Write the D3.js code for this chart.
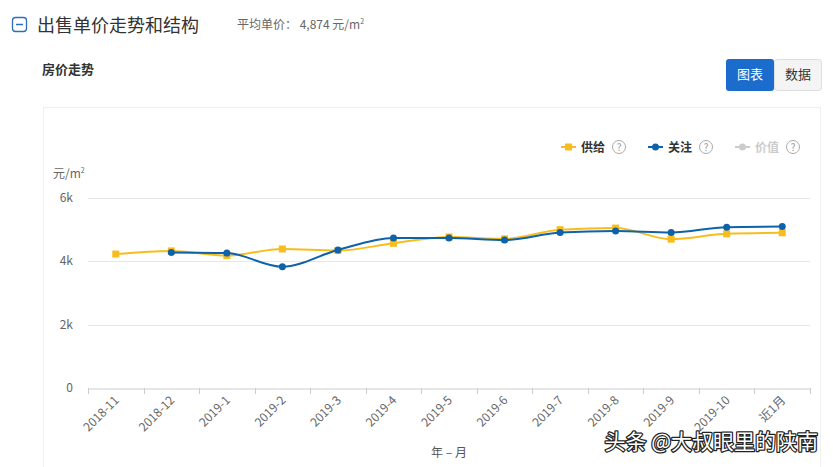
<!DOCTYPE html>
<html lang="zh">
<head>
<meta charset="UTF-8">
<title>房价走势</title>
<style>
  body { margin: 0; background: #fff; font-family: "Noto Sans CJK SC", "Microsoft YaHei", sans-serif; }
</style>
</head>
<body>
<script src="https://d3js.org/d3.v7.min.js"></script>
<script>
// months on the x axis
var months = ["2018-11", "2018-12", "2019-1", "2019-2", "2019-3", "2019-4", "2019-5",
              "2019-6", "2019-7", "2019-8", "2019-9", "2019-10", "近1月"];
// 供给 (supply) and 关注 (attention), 元/m²
var supply = [4230, 4330, 4180, 4390, 4340, 4570, 4770, 4710, 5000, 5050, 4700, 4870, 4900];
var attention = [null, 4280, 4260, 3830, 4360, 4740, 4740, 4670, 4910, 4960, 4910, 5080, 5100];
var yTicks = [0, 2000, 4000, 6000];
var legendNames = ["供给", "关注", "价值"];

var W = 833, H = 467;
var font = '"Noto Sans CJK SC", sans-serif';
var yellow = "#f8bd1c", blue = "#0d62aa", grey = "#cccccc";

var svg = d3.select("body").append("svg")
    .attr("width", W).attr("height", H)
    .style("font-family", font);

// header
svg.append("rect").attr("x", 12.5).attr("y", 17.5).attr("width", 14).attr("height", 14)
    .attr("rx", 3).attr("fill", "#fff").attr("stroke", "#2d6cc0").attr("stroke-width", 1.3);
svg.append("line").attr("x1", 16).attr("x2", 23).attr("y1", 24.5).attr("y2", 24.5)
    .attr("stroke", "#2d6cc0").attr("stroke-width", 1.5);
svg.append("text").attr("x", 37).attr("y", 32).attr("font-size", 18).attr("fill", "#333")
    .text("出售单价走势和结构");
var avg = svg.append("text").attr("x", 237).attr("y", 29).attr("font-size", 12).attr("fill", "#666");
avg.append("tspan").text("平均单价： 4,874 元/m");
avg.append("tspan").attr("font-size", 7).attr("dy", -5).text("2");

svg.append("text").attr("x", 42).attr("y", 74).attr("font-size", 13).attr("font-weight", "bold")
    .attr("fill", "#333").text("房价走势");

// buttons
svg.append("rect").attr("x", 774.5).attr("y", 59.5).attr("width", 47).attr("height", 31)
    .attr("rx", 3).attr("fill", "#f4f4f4").attr("stroke", "#ddd");
svg.append("rect").attr("x", 726).attr("y", 59).attr("width", 48).attr("height", 32)
    .attr("rx", 3).attr("fill", "#1b6ccc");
svg.append("text").attr("x", 750).attr("y", 79).attr("text-anchor", "middle").attr("font-size", 13)
    .attr("fill", "#fff").text("图表");
svg.append("text").attr("x", 798).attr("y", 79).attr("text-anchor", "middle").attr("font-size", 13)
    .attr("fill", "#333").text("数据");

// panel
svg.append("rect").attr("x", 43.5).attr("y", 107.5).attr("width", 777).attr("height", 370)
    .attr("fill", "none").attr("stroke", "#efefef");

// scales
var x = d3.scaleBand().domain(months).range([88, 810]);
var y = d3.scaleLinear().domain([0, 6000]).range([388, 198]);
var cx = function (m) { return x(m) + x.bandwidth() / 2; };

// grid
svg.append("g").selectAll("line").data(yTicks.slice(1)).enter().append("line")
    .attr("x1", 88).attr("x2", 810)
    .attr("y1", function (d) { return Math.round(y(d)) + 0.5; })
    .attr("y2", function (d) { return Math.round(y(d)) + 0.5; })
    .attr("stroke", "#e6e6e6");

svg.append("g").selectAll("text").data(yTicks).enter().append("text")
    .attr("x", 73).attr("y", function (d) { return y(d) + 4; })
    .attr("text-anchor", "end").attr("font-size", 12).attr("fill", "#666")
    .text(function (d) { return d === 0 ? "0" : (d / 1000) + "k"; });

var unit = svg.append("text").attr("x", 53).attr("y", 178).attr("font-size", 12).attr("fill", "#666");
unit.append("tspan").text("元/m");
unit.append("tspan").attr("font-size", 7).attr("dy", -5).text("2");

// x axis
var xAxis = d3.axisBottom(x).tickSize(0).tickFormat("");
svg.append("g").attr("transform", "translate(0,388.5)").call(xAxis)
    .select(".domain").attr("stroke", "#ccc");
var bounds = months.map(function (m) { return x(m); }).concat([810]);
svg.append("g").selectAll("line").data(bounds).enter().append("line")
    .attr("x1", function (d) { return Math.round(d) + 0.5; })
    .attr("x2", function (d) { return Math.round(d) + 0.5; })
    .attr("y1", 388).attr("y2", 394).attr("stroke", "#ccc");

svg.append("g").selectAll("text").data(months).enter().append("text")
    .attr("text-anchor", "end").attr("font-size", 12).attr("fill", "#666")
    .attr("transform", function (d) {
        return "translate(" + (cx(d) + 4) + ",401) rotate(-45)";
    })
    .text(function (d) { return d; });

svg.append("text").attr("x", 449).attr("y", 457).attr("text-anchor", "middle")
    .attr("font-size", 12).attr("fill", "#555").text("年 – 月");

// lines
var line = d3.line()
    .defined(function (d) { return d.v != null; })
    .x(function (d) { return cx(d.m); })
    .y(function (d) { return y(d.v); })
    .curve(d3.curveMonotoneX);

var sSupply = months.map(function (m, i) { return {m: m, v: supply[i]}; });
var sAttention = months.map(function (m, i) { return {m: m, v: attention[i]}; });

svg.append("path").datum(sSupply).attr("d", line)
    .attr("fill", "none").attr("stroke", yellow).attr("stroke-width", 2);
svg.append("g").selectAll("rect").data(sSupply).enter().append("rect")
    .attr("x", function (d) { return cx(d.m) - 3.5; })
    .attr("y", function (d) { return y(d.v) - 3.5; })
    .attr("width", 7).attr("height", 7).attr("fill", yellow);

svg.append("path").datum(sAttention).attr("d", line)
    .attr("fill", "none").attr("stroke", blue).attr("stroke-width", 2);
svg.append("g").selectAll("circle").data(sAttention.filter(function (d) { return d.v != null; }))
    .enter().append("circle")
    .attr("cx", function (d) { return cx(d.m); })
    .attr("cy", function (d) { return y(d.v); })
    .attr("r", 3.5).attr("fill", blue);

// legend
var legendX = [561, 648, 735];
var legendCol = [yellow, blue, grey];
var lg = svg.append("g").selectAll("g").data(legendNames).enter().append("g")
    .attr("transform", function (d, i) { return "translate(" + legendX[i] + ",147)"; });
lg.append("line").attr("x1", 0).attr("x2", 15).attr("stroke-width", 2)
    .attr("stroke", function (d, i) { return legendCol[i]; });
lg.each(function (d, i) {
    var g = d3.select(this);
    if (i === 0) {
        g.append("rect").attr("x", 4).attr("y", -3.5).attr("width", 7).attr("height", 7).attr("fill", yellow);
    } else {
        g.append("circle").attr("cx", 7.5).attr("r", 3.5).attr("fill", legendCol[i]);
    }
});
lg.append("text").attr("x", 20).attr("y", 4.5).attr("font-size", 12).attr("font-weight", "bold")
    .attr("fill", function (d, i) { return i === 2 ? "#ccc" : "#333"; })
    .text(function (d) { return d; });
lg.append("circle").attr("cx", 58).attr("cy", 0).attr("r", 6.5)
    .attr("fill", "none").attr("stroke", "#aaa");
lg.append("text").attr("x", 58).attr("y", 4).attr("text-anchor", "middle").attr("font-size", 10)
    .attr("fill", "#999").text("?");

// watermark
svg.append("text").attr("x", 818).attr("y", 449).attr("text-anchor", "end")
    .attr("font-size", 21).attr("fill", "#fff").attr("stroke", "#222").attr("stroke-width", 2.5)
    .attr("paint-order", "stroke").attr("stroke-linejoin", "round")
    .text("头条 @大叔眼里的陕南");
</script>
</body>
</html>
